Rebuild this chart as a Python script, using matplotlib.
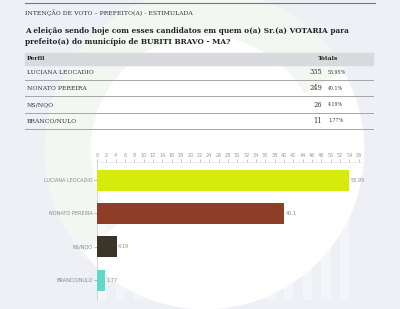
import numpy as np
import matplotlib.pyplot as plt
from matplotlib.patches import Wedge, Rectangle

# dados
candidatos = ['LUCIANA LEOCADIO', 'NONATO PEREIRA', 'NS/NQO', 'BRANCO/NULO']
totais = [335, 249, 26, 11]
percentuais = [53.95, 40.1, 4.19, 1.77]
pct_labels = ['53.95%', '40.1%', '4.19%', '1.77%']
cores = ['#d6eb0c', '#8e3d26', '#3b3428', '#5fd9c9']
ticks_x = list(range(0, 57, 2))

W, H = 400, 309


def fy(y):
    return 1 - y / H


def fx(x):
    return x / W


fig = plt.figure(figsize=(4, 3.09), dpi=100)
fig.patch.set_facecolor('white')

# marca d'agua (aproximada)
bg = fig.add_axes([0, 0, 1, 1], zorder=-5)
bg.set_xlim(0, W)
bg.set_ylim(H, 0)
bg.axis('off')
bg.add_patch(Wedge((205, 150), 260, 0, 360, width=100, color='#eef0f6', zorder=0))
bg.add_patch(Wedge((205, 150), 160, 140, 330, width=45, color='#f2f7f2', zorder=0))

serif = 'DejaVu Serif'
bg.plot([25, 375], [3, 3], color='#777777', lw=0.8)
bg.text(25, 13, 'INTENÇÃO DE VOTO – PREFEITO(A) - ESTIMULADA', fontsize=4.4,
        family=serif, color='#333333', va='center')
bg.text(25, 31, 'A eleição sendo hoje com esses candidatos em quem o(a) Sr.(a) VOTARIA para',
        fontsize=5.35, family=serif, weight='bold', color='#222222', va='center')
bg.text(25, 42, 'prefeito(a) do município de BURITI BRAVO - MA?',
        fontsize=5.35, family=serif, weight='bold', color='#222222', va='center')

# tabela
bg.add_patch(Rectangle((25, 53), 348, 12, color='#d9dadd', zorder=1))
bg.text(27, 59, 'Perfil', fontsize=4.4, family=serif, weight='bold', color='#222222',
        va='center', zorder=2)
bg.text(318, 59, 'Totals', fontsize=4.4, family=serif, weight='bold', color='#222222',
        va='center', zorder=2)
for i, nome in enumerate(candidatos):
    y = 72 + i * 16.3
    bg.text(27, y, nome, fontsize=4.4, family=serif, color='#333333', va='center')
    bg.text(322, y, str(totais[i]), fontsize=4.8, family=serif, color='#333333',
            va='center', ha='right')
    bg.text(328, y, pct_labels[i], fontsize=3.4, family=serif, color='#333333',
            va='center')
    bg.plot([25, 373], [y + 8, y + 8], color='#999999', lw=0.6)

# grafico
ax = fig.add_axes([fx(97), fy(300), fx(362) - fx(97), fy(162) - fy(300)])
ax.set_facecolor('none')
ypos = np.arange(len(candidatos))
ax.barh(ypos, percentuais, height=0.63, color=cores, zorder=3)
for t in ticks_x[1::2]:
    ax.axvspan(t - 2, t, color='white', alpha=0.35, lw=0, zorder=0)
ax.set_xlim(0, 56.7)
ax.set_ylim(3.6, -0.54)
ax.set_xticks(ticks_x)
ax.xaxis.tick_top()
ax.tick_params(axis='x', labelsize=3.6, colors='#999999', length=2, width=0.4, pad=1)
ax.set_yticks(ypos)
ax.set_yticklabels(candidatos)
ax.tick_params(axis='y', labelsize=3.6, colors='#888888', length=2, width=0.4, pad=1)
for s in ['right', 'bottom']:
    ax.spines[s].set_visible(False)
ax.spines['top'].set_color('#dddddd')
ax.spines['left'].set_color('#bbbbbb')
ax.spines['top'].set_linewidth(0.4)
ax.spines['left'].set_linewidth(0.4)
for i, v in enumerate(percentuais):
    ax.text(v + 0.3, i, f'{v:g}', fontsize=3.6, color='#888888', va='center')

plt.savefig('out.png', dpi=100)
